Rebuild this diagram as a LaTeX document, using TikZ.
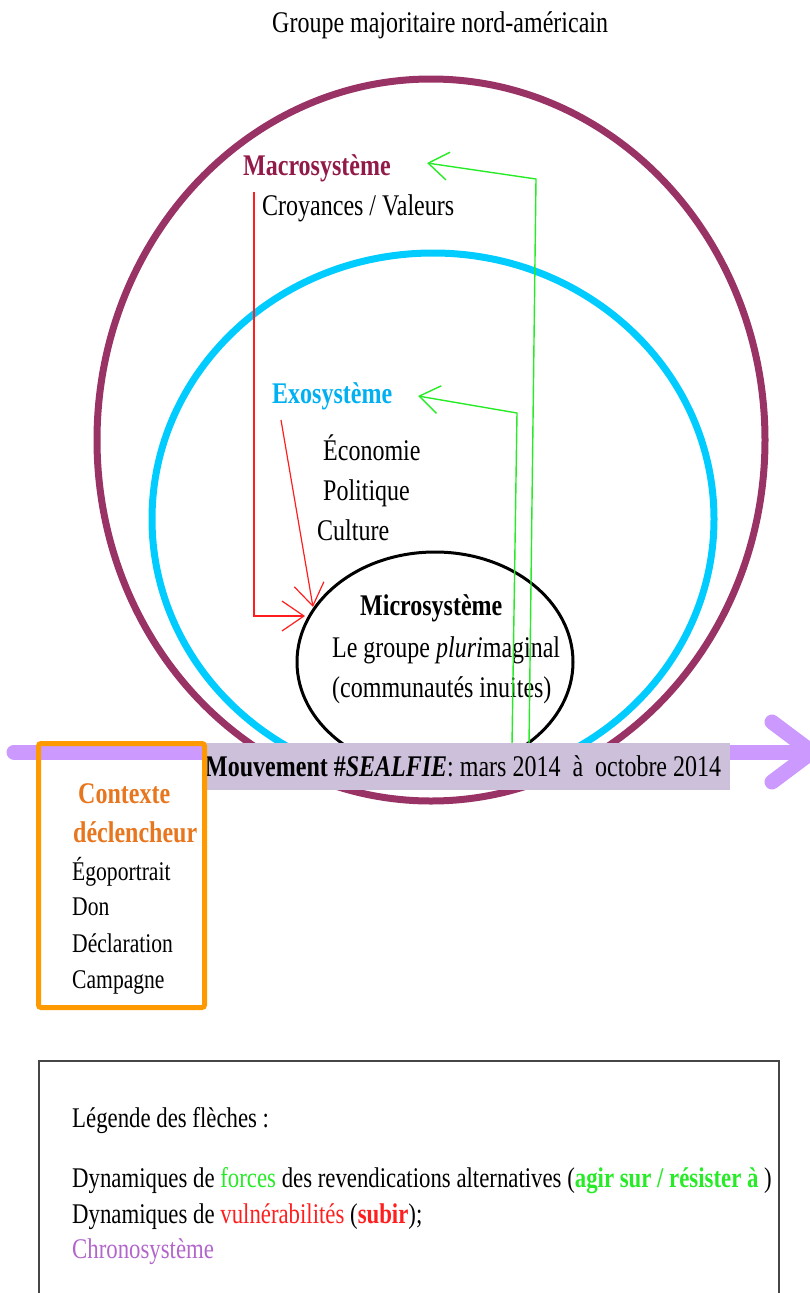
\documentclass[tikz,border=0pt]{standalone}
\usepackage{fontspec}
\setmainfont{Liberation Serif}[FakeStretch=0.8]
\usetikzlibrary{arrows.meta,shapes.geometric}

\definecolor{macroline}{RGB}{153,51,102}
\definecolor{macrotext}{RGB}{146,26,72}
\definecolor{exoline}{RGB}{0,204,255}
\definecolor{exotext}{RGB}{0,176,240}
\definecolor{chronocol}{RGB}{204,153,255}
\definecolor{chronotext}{RGB}{178,102,204}
\definecolor{labelfill}{RGB}{204,192,218}
\definecolor{ctxline}{RGB}{255,153,0}
\definecolor{ctxtext}{RGB}{232,118,30}
\definecolor{forcecol}{RGB}{40,235,40}
\definecolor{vulncol}{RGB}{255,30,30}
\definecolor{legendline}{RGB}{70,70,70}

\begin{document}
\fontsize{30}{34}\selectfont
\begin{tikzpicture}[x=1pt,y=-1pt,
  txt/.style={anchor=base west, inner sep=0pt},
  ring/.style={ellipse, inner sep=0pt, outer sep=0pt},
  vulnarrow/.style={draw=vulncol, line width=1.2pt, -{Straight Barb[length=22pt,width=30pt]}},
  forcearrow/.style={draw=forcecol, line width=1.4pt, -{Straight Barb[length=20pt,width=28pt]}},
  chronoline/.style={draw=chronocol, line width=15pt, line cap=round, line join=round},
  labelbox/.style={fill=labelfill, anchor=north west, inner sep=0pt, minimum height=47pt},
  ctxbox/.style={draw=ctxline, line width=5pt, rounded corners=2.5pt, anchor=north west,
                 minimum width=166pt, minimum height=264pt, inner sep=0pt},
  legendbox/.style={draw=legendline, line width=1.5pt, anchor=north west,
                 minimum width=740pt, minimum height=260pt, inner sep=0pt},
  legendtxt/.style={anchor=base west, inner sep=0pt, font=\fontsize{28.5}{32}\selectfont},
  itemtxt/.style={anchor=base west, inner sep=0pt, font=\fontsize{27}{30}\selectfont}]
\useasboundingbox (0,0) rectangle (809,1293);

% nested systems
\node[ring, draw=macroline, line width=7pt, minimum width=668pt, minimum height=722pt] (macroE) at (431,440) {};
\node[ring, draw=exoline, line width=7pt, minimum width=562pt, minimum height=532pt] (exoE) at (433,519) {};
\node[ring, draw=black, line width=3pt, minimum width=276pt, minimum height=220pt] (microE) at (435,662) {};

% titles and contents
\node[txt] (title) at (272,32) {Groupe majoritaire nord-américain};
\node[txt, font=\bfseries, text=macrotext] (macro) at (243,175) {Macrosystème};
\node[txt] (croy) at (262,215) {Croyances / Valeurs};
\node[txt, font=\bfseries, text=exotext] (exo) at (272,403) {Exosystème};
\node[txt] (eco) at (323,460) {Économie};
\node[txt] (pol) at (323,500) {Politique};
\node[txt] (cult) at (317,540) {Culture};
\node[txt, font=\bfseries] (micro) at (360,615) {Microsystème};
\node[txt] (micro2) at (332,657) {Le groupe \textit{pluri}maginal};
\node[txt] (micro3) at (332,697) {(communautés inuites)};

% vulnerability arrows (red)
\coordinate (rA0) at (254,192);
\coordinate (rA1) at (254,616);
\coordinate (rA2) at (305,616);
\draw[vulnarrow] (rA0) -- (rA1) -- (rA2);
\coordinate (rB0) at (281,420);
\coordinate (rB1) at (313,607);
\draw[vulnarrow] (rB0) -- (rB1);

% force arrows (green)
\coordinate (gM0) at (529,745);
\coordinate (gM1) at (536,179);
\coordinate (gM2) at (427,163);
\draw[forcearrow] (gM0) -- (gM1) -- (gM2);
\coordinate (gE0) at (512,745);
\coordinate (gE1) at (517,413);
\coordinate (gE2) at (418,396);
\draw[forcearrow] (gE0) -- (gE1) -- (gE2);

% chronosystem time line
\coordinate (chS) at (14,752);
\coordinate (chT) at (812,752);
\coordinate (chU) at (772,722);
\coordinate (chL) at (772,782);
\draw[chronoline] (chS) -- (chT);
\draw[chronoline] (chU) -- (chT) -- (chL);

\node[labelbox] (mouv) at (205,743)
  {\makebox[525pt][l]{\textbf{Mouvement \#\textit{SEALFIE}}: mars 2014\ \ à\ \ octobre 2014}};

% triggering context
\node[ctxbox] (ctx) at (36,741) {};
\node[txt, font=\bfseries, text=ctxtext] (ctx1) at (78,803) {Contexte};
\node[txt, font=\bfseries, text=ctxtext] (ctx2) at (73,842) {déclencheur};
\node[itemtxt] (it1) at (72,880) {Égoportrait};
\node[itemtxt] (it2) at (72,915) {Don};
\node[itemtxt] (it3) at (72,952) {Déclaration};
\node[itemtxt] (it4) at (72,988) {Campagne};

% legend
\node[legendbox] (legend) at (38,1060) {};
\node[legendtxt] (lg0) at (72,1127) {Légende des flèches :};
\node[legendtxt] (lg1) at (72,1187) {Dynamiques de {\color{forcecol}forces} des revendications alternatives ({\color{forcecol}\bfseries agir sur / résister à} )};
\node[legendtxt] (lg2) at (72,1223) {Dynamiques de {\color{vulncol}vulnérabilités} ({\color{vulncol}\bfseries subir});};
\node[legendtxt, text=chronotext] (lg3) at (72,1258) {Chronosystème};
\end{tikzpicture}
\end{document}
